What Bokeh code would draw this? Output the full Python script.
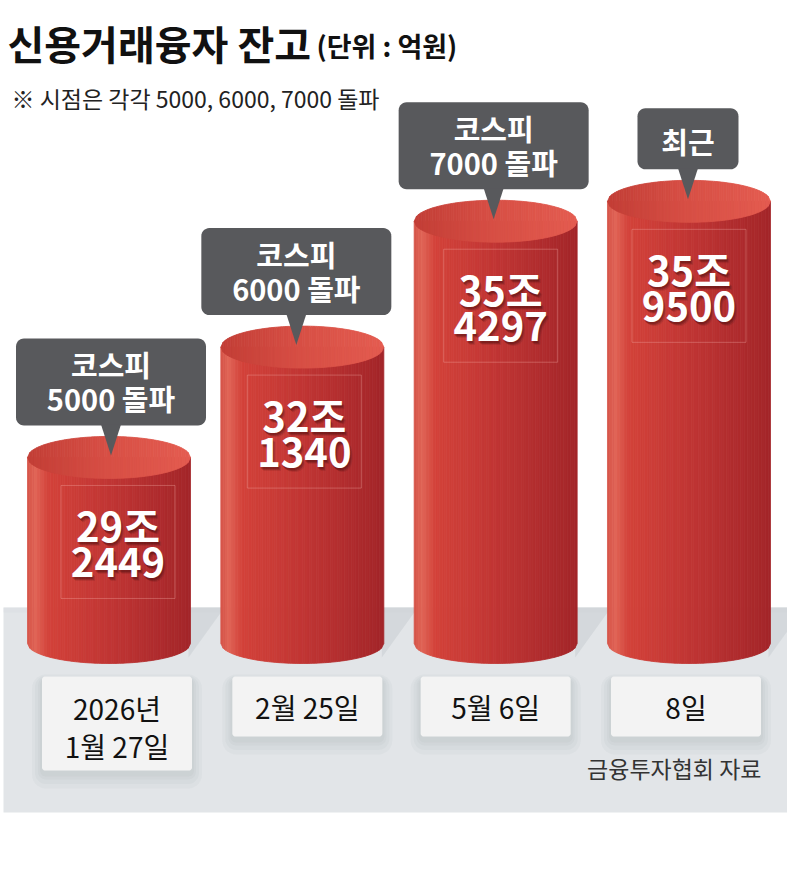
import numpy as np
from bokeh.plotting import figure
from bokeh.models import Range1d, Label
from bokeh.embed import file_html
from bokeh.resources import INLINE
from bokeh.core.properties import value

# ---------------- data ----------------
dates = ["2026년\n1월 27일", "2월 25일", "5월 6일", "8일"]
balances = [292449, 321340, 354297, 359500]          # 신용거래융자 잔고 (억원)
milestones = ["코스피\n5000 돌파", "코스피\n6000 돌파", "코스피\n7000 돌파", "최근"]
title_text = "신용거래융자 잔고"
unit_text = "(단위 : 억원)"
note_text = "※ 시점은 각각 5000, 6000, 7000 돌파"
source_text = "금융투자협회 자료"

# ---------------- layout (pixels) ----------------
W, H = 787, 859
PX_PER_X = 193.33
X_START = -108.5 / PX_PER_X
Y_PER_PX = 261.8
BASE = 243740            # value drawn at the cylinders' base line
BASE_PY = 643
Y_END = BASE + BASE_PY * Y_PER_PX
Y_START = Y_END - H * Y_PER_PX
FONT = "Noto Sans CJK KR"

CYL_W = 163
TOP_B = 21
BOT_B = 20
FLOOR_TOP, FLOOR_BOT = 607, 812
DATE_TOP = 676
date_dx = [8, 5, 0, -3]
call_dx = [2, -6, -2, -1]
val_dx = [9, 2, 5, 0]


def xd(px):
    return X_START + px / PX_PER_X


def yd(py):
    return Y_END - py * Y_PER_PX


def wx(px):
    return px / PX_PER_X


def hy(px):
    return px * Y_PER_PX


def to_px(x):
    return (x - X_START) * PX_PER_X


def to_py(y):
    return (Y_END - y) / Y_PER_PX


def grad(stops, f):
    for (f0, c0), (f1, c1) in zip(stops[:-1], stops[1:]):
        if f <= f1:
            t = (f - f0) / (f1 - f0) if f1 > f0 else 0.0
            c = [round(a + (b - a) * t) for a, b in zip(c0, c1)]
            return "#%02x%02x%02x" % tuple(c)
    return "#%02x%02x%02x" % tuple(stops[-1][1])


def rrect(cx, top, w, h, rad, n=8):
    l, r, t, b = cx - w / 2, cx + w / 2, top, top + h
    corners = [(r - rad, t + rad, -90, 0), (r - rad, b - rad, 0, 90),
               (l + rad, b - rad, 90, 180), (l + rad, t + rad, 180, 270)]
    xs, ys = [], []
    for ccx, ccy, a0, a1 in corners:
        for a in np.linspace(a0, a1, n):
            xs.append(xd(ccx + rad * np.cos(np.radians(a))))
            ys.append(yd(ccy + rad * np.sin(np.radians(a))))
    return xs, ys


p = figure(width=W, height=H, output_backend="svg", toolbar_location=None,
           x_range=Range1d(X_START, X_START + W / PX_PER_X),
           y_range=Range1d(Y_START, Y_END),
           x_axis_location=None, y_axis_location=None, min_border=0,
           background_fill_color="white", border_fill_color="white")
p.grid.visible = False
p.outline_line_color = None

xs_idx = list(range(len(balances)))

# floor
p.quad(left=[xd(3)], right=[xd(W + 10)], top=[yd(FLOOR_TOP)], bottom=[yd(FLOOR_BOT)],
       fill_color="#e2e5e8", line_color=None)
p.quad(left=[xd(3)], right=[xd(W + 10)], top=[yd(FLOOR_TOP)], bottom=[yd(FLOOR_TOP + 5)],
       fill_color="#d9dde1", line_color=None, fill_alpha=0.4)

# cast shadows on floor
sh_x, sh_y = [], []
for i in xs_idx:
    xr = to_px(i) + CYL_W / 2
    sh_x.append([xd(xr - 2), xd(xr + 34), xd(xr - 2)])
    sh_y.append([yd(FLOOR_TOP), yd(FLOOR_TOP), yd(BASE_PY + 14)])
p.patches(xs=sh_x, ys=sh_y, fill_color="#c9cdd2", fill_alpha=0.55, line_color=None)

# cylinders (gradient strips)
body_stops = [(0.0, (214, 84, 72)), (0.05, (224, 100, 86)), (0.13, (211, 66, 58)),
              (0.55, (190, 52, 51)), (1.0, (163, 37, 41))]
top_stops = [(0.0, (194, 62, 54)), (0.45, (214, 78, 68)), (1.0, (228, 92, 80))]
N = 70
bx, by, bc, tx, ty, tc = [], [], [], [], [], []
r = wx(CYL_W) / 2
for i, v in zip(xs_idx, balances):
    for j in range(N):
        u0 = -1 + 2 * j / N
        u1 = -1 + 2 * (j + 1) / N
        s0 = np.sqrt(max(0.0, 1 - u0 ** 2))
        s1 = np.sqrt(max(0.0, 1 - u1 ** 2))
        x0, x1 = i + r * u0, i + r * u1
        f = (j + 0.5) / N
        bx.append([x0, x1, x1, x0])
        by.append([v, v, BASE - hy(BOT_B) * s1, BASE - hy(BOT_B) * s0])
        bc.append(grad(body_stops, f))
        tx.append([x0, x1, x1, x0])
        ty.append([v + hy(TOP_B) * s0, v + hy(TOP_B) * s1, v - hy(TOP_B) * s1, v - hy(TOP_B) * s0])
        tc.append(grad(top_stops, f))
p.patches(xs=bx, ys=by, fill_color=bc, line_color=bc, line_width=0.8)
p.patches(xs=tx, ys=ty, fill_color=tc, line_color=tc, line_width=0.8)

# faint frames around value labels
fx, fy = [], []
for i, v in zip(xs_idx, balances):
    cx = to_px(i) + val_dx[i]
    t = to_py(v) + 28
    fx.append([xd(cx - 57), xd(cx + 57), xd(cx + 57), xd(cx - 57), xd(cx - 57)])
    fy.append([yd(t), yd(t), yd(t + 113), yd(t + 113), yd(t)])
p.multi_line(xs=fx, ys=fy, line_color="#f3b0a8", line_alpha=0.35, line_width=1)

# value labels
l1x, l1y, l1t, l2x, l2y, l2t = [], [], [], [], [], []
for i, v in zip(xs_idx, balances):
    cx = i + wx(val_dx[i])
    l1x.append(cx); l1y.append(v - hy(68)); l1t.append(f"{v // 10000}조")
    l2x.append(cx); l2y.append(v - hy(105)); l2t.append(f"{v % 10000}")
for ox, oy, al in [(1.5, 2.5, 0.22), (0.5, 1.5, 0.25), (2.5, 3.5, 0.12)]:
    p.text(x=[x + wx(ox) for x in l1x + l2x], y=[y - hy(oy) for y in l1y + l2y], text=l1t + l2t,
           text_font=value(FONT), text_font_size="40px", text_font_style="bold",
           text_color="#3a0808", text_alpha=al, text_align="center", text_baseline="middle")
p.text(x=l1x + l2x, y=l1y + l2y, text=l1t + l2t, text_font=value(FONT), text_font_size="40px",
       text_font_style="bold", text_color="white", text_align="center", text_baseline="middle")

# milestone callouts
cx_l, cy_l, px_l, py_l = [], [], [], []
ctx, cty, ctt = [], [], []
for i, v, m in zip(xs_idx, balances, milestones):
    lines = m.split("\n")
    tip = to_py(v) - 2
    w, h = (190, 87) if len(lines) == 2 else (101, 61)
    bot = tip - 30
    top = bot - h
    cx = to_px(i) + call_dx[i]
    xs_, ys_ = rrect(cx, top, w, h, 8)
    cx_l.append(xs_); cy_l.append(ys_)
    px_l.append([xd(cx - 10), xd(cx + 10), xd(cx)])
    py_l.append([yd(bot - 1), yd(bot - 1), yd(tip)])
    offs = [26, 60] if len(lines) == 2 else [33]
    for ln, o in zip(lines, offs):
        ctx.append(xd(cx)); cty.append(yd(top + o)); ctt.append(ln)
p.patches(xs=cx_l, ys=cy_l, fill_color="#58595c", line_color=None)
p.patches(xs=px_l, ys=py_l, fill_color="#58595c", line_color=None)
p.text(x=ctx, y=cty, text=ctt, text_font=value(FONT), text_font_size="29px", text_font_style="bold",
       text_color="white", text_align="center", text_baseline="middle")

# date boxes
shx, shy, dbx, dby = [], [], [], []
dtx, dty, dtt = [], [], []
for i, d in zip(xs_idx, dates):
    lines = d.split("\n")
    w, h = (150, 94) if len(lines) == 2 else (150, 60)
    cx = to_px(i) + date_dx[i]
    for k in (10, 7, 4, 2):
        a, b = rrect(cx, DATE_TOP + 3 - k / 2, w + k * 2, h + k * 2, 4 + k)
        shx.append(a); shy.append(b)
    a, b = rrect(cx, DATE_TOP, w, h, 3)
    dbx.append(a); dby.append(b)
    offs = [31, 69] if len(lines) == 2 else [30]
    for ln, o in zip(lines, offs):
        dtx.append(xd(cx)); dty.append(yd(DATE_TOP + o)); dtt.append(ln)
p.patches(xs=shx, ys=shy, fill_color="#7d848c", fill_alpha=0.05, line_color=None)
p.patches(xs=dbx, ys=dby, fill_color="#f3f3f3", line_color=None)
p.text(x=dtx, y=dty, text=dtt, text_font=value(FONT), text_font_size="28px",
       text_color="#111111", text_align="center", text_baseline="middle")

# titles & source
p.add_layout(Label(x=7, y=H - 42, x_units="screen", y_units="screen", text=title_text,
                   text_font=FONT, text_font_size="40px", text_font_style="bold",
                   text_color="#111111", text_baseline="middle"))
p.add_layout(Label(x=316, y=H - 45, x_units="screen", y_units="screen", text=unit_text,
                   text_font=FONT, text_font_size="27px", text_font_style="bold",
                   text_color="#111111", text_baseline="middle"))
p.add_layout(Label(x=11, y=H - 97, x_units="screen", y_units="screen", text=note_text,
                   text_font=FONT, text_font_size="23px",
                   text_color="#222222", text_baseline="middle"))
p.add_layout(Label(x=761, y=H - 767, x_units="screen", y_units="screen", text=source_text,
                   text_font=FONT, text_font_size="23px", text_align="right",
                   text_color="#333333", text_baseline="middle"))

open("out.html", "w").write(file_html(p, INLINE))
